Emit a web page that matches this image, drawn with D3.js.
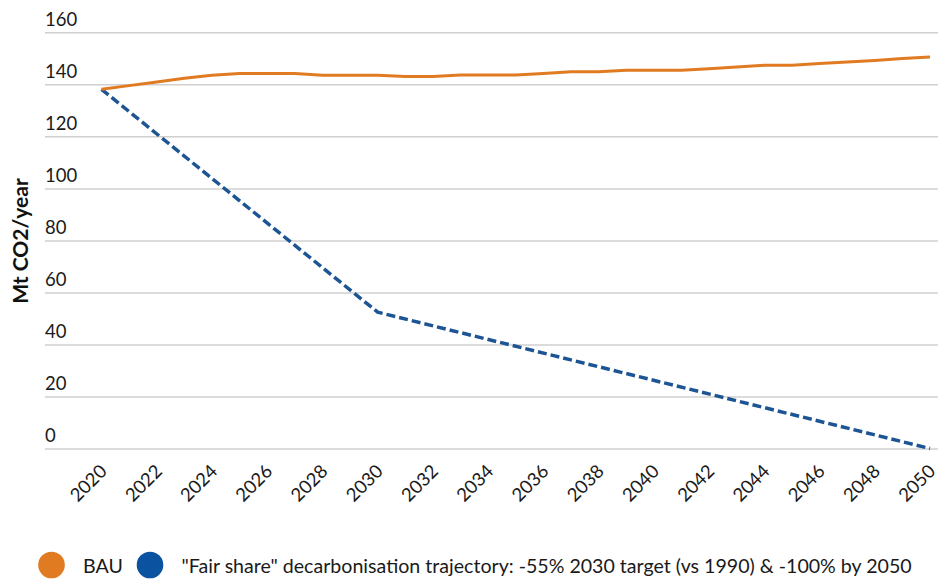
<!DOCTYPE html>
<html>
<head>
<meta charset="utf-8">
<script src="https://cdn.jsdelivr.net/npm/d3@7"></script>
<style>
  html, body { margin: 0; padding: 0; background: #fff; }
  svg { display: block; font-family: Lato, "Open Sans", sans-serif; }
</style>
</head>
<body>
<svg id="chart" width="938" height="579"></svg>
<script>
// Business-as-usual emissions, Mt CO2 per year
const years = d3.range(2020, 2051);
const bauValues = [
  138.1, 139.5, 140.9, 142.3, 143.5, 144.2, 144.2, 144.2, 143.5, 143.5,
  143.5, 143.0, 143.0, 143.6, 143.6, 143.6, 144.2, 144.8, 144.8, 145.4,
  145.4, 145.4, 146.0, 146.7, 147.3, 147.3, 148.0, 148.6, 149.2, 149.9,
  150.5
];
// "Fair share" trajectory: turning points of the path
const fairYears = [2020, 2030, 2050];
const fairValues = [138.1, 52.4, 0];

const yTicks = [0, 20, 40, 60, 80, 100, 120, 140, 160];
const xTicks = d3.range(2020, 2051, 2);

const seriesNames = [
  "BAU",
  "\"Fair share\" decarbonisation trajectory: -55% 2030 target (vs 1990) & -100% by 2050"
];
const seriesColors = ["#e07b22", "#1d5594"];
const legendColors = ["#e07b22", "#0b53a1"];

const svg = d3.select("#chart");

const x = d3.scaleLinear().domain([2020, 2050]).range([101.5, 930]);
const y = d3.scaleLinear().domain([0, 160]).range([448.5, 32.3]);

// Horizontal grid with labels sitting above each line
const yAxis = d3.axisLeft(y).tickValues(yTicks).tickSize(0).tickFormat(d3.format("d"));
const gy = svg.append("g").attr("transform", "translate(45,0)").call(yAxis);
gy.select(".domain").remove();
gy.selectAll(".tick line")
  .attr("x2", 938 - 45)
  .attr("stroke", "#d0d0d0")
  .attr("stroke-width", 1.5);
gy.selectAll(".tick text")
  .attr("x", 0)
  .attr("dy", -7)
  .attr("text-anchor", "start")
  .attr("fill", "#1a1a1a")
  .style("font-size", "18.5px")
  .style("font-family", "Lato, sans-serif");

// Year labels, slanted
const xAxis = d3.axisBottom(x).tickValues(xTicks).tickSize(0).tickFormat(d3.format("d"));
const gx = svg.append("g").attr("transform", `translate(0,${y(0)})`).call(xAxis);
gx.select(".domain").remove();
gx.selectAll(".tick text")
  .attr("text-anchor", "end")
  .attr("dy", null)
  .attr("y", 0)
  .attr("transform", "translate(6,24) rotate(-45)")
  .attr("fill", "#1a1a1a")
  .style("font-size", "18.5px")
  .style("font-family", "Lato, sans-serif");

// Axis title
svg.append("text")
  .attr("transform", "translate(28,241) rotate(-90)")
  .attr("text-anchor", "middle")
  .attr("fill", "#111")
  .style("font-size", "21px")
  .style("font-weight", "bold")
  .text("Mt CO2/year");

const line = d3.line().x(d => x(d[0])).y(d => y(d[1]));

svg.append("path")
  .datum(fairYears.map((yr, i) => [yr, fairValues[i]]))
  .attr("d", line)
  .attr("fill", "none")
  .attr("stroke", seriesColors[1])
  .attr("stroke-width", 3.5)
  .attr("stroke-dasharray", "9,4");

svg.append("path")
  .datum(years.map((yr, i) => [yr, bauValues[i]]))
  .attr("d", line)
  .attr("fill", "none")
  .attr("stroke", seriesColors[0])
  .attr("stroke-width", 3)
  .attr("stroke-linejoin", "round");

// Legend
const legendX = [51.5, 150];
const legend = svg.append("g");
seriesNames.forEach((name, i) => {
  legend.append("circle")
    .attr("cx", legendX[i]).attr("cy", 565).attr("r", 13.3)
    .attr("fill", legendColors[i]);
  legend.append("text")
    .attr("x", legendX[i] + 31.5).attr("y", 573)
    .attr("fill", "#1a1a1a")
    .style("font-size", "19.6px")
    .text(name);
});
</script>
</body>
</html>
